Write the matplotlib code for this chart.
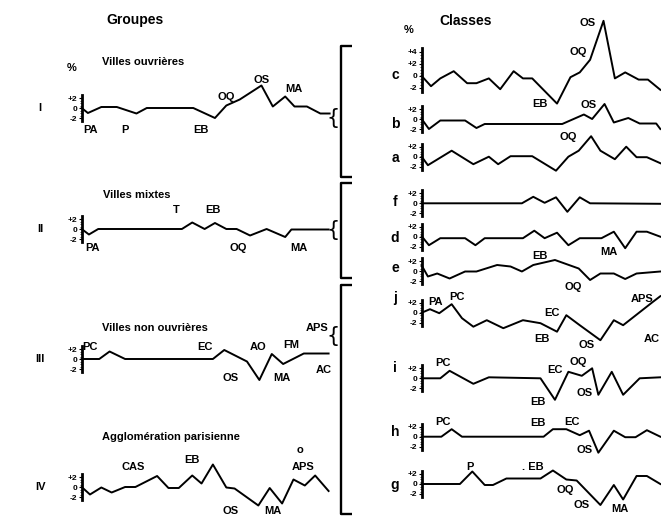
import numpy as np
import matplotlib
matplotlib.use("Agg")
import matplotlib.pyplot as plt
from matplotlib.lines import Line2D

plt.rcParams['font.family'] = ['Liberation Sans', 'DejaVu Sans']
plt.rcParams['font.weight'] = 'bold'

# ---- data: position along the category axis (0..24), deviation in % ----
# Groupes (left)
I_x = [0, 0.6, 1.9, 3.4, 5.3, 6.3, 10.8, 12.9, 14.0, 15.3, 17.4, 18.5, 19.7, 20.6, 21.8, 23.1, 24.0]
I_y = [0, -1.0, 0.2, 0.2, -1.1, 0, 0, -2.0, 0.5, 1.7, 4.5, 0.3, 2.3, 0.3, 0.3, -1.1, -1.1]
I_lab = [("PA", 0.9, -4.4), ("P", 4.2, -4.4), ("EB", 11.5, -4.4),
         ("OQ", 14.0, 2.3), ("OS", 17.4, 5.6), ("MA", 20.5, 3.8)]

II_x = [0, 0.7, 1.6, 9.7, 10.7, 11.9, 12.9, 14.0, 15.0, 16.3, 17.9, 19.7, 20.3, 23.9]
II_y = [0, -1.1, 0, 0, 1.3, 0, 1.2, 0, 0, -1.3, 0, -1.6, -0.1, -0.1]
II_lab = [("T", 9.2, 3.8), ("EB", 12.7, 3.8), ("PA", 1.0, -3.8),
          ("OQ", 15.2, -3.8), ("MA", 21.0, -3.8)]

III_x = [0, 1.7, 2.7, 4.2, 12.7, 13.8, 16.0, 17.2, 18.4, 19.5, 21.5, 23.9]
III_y = [0, 0, 1.5, 0, 0, 1.8, -0.5, -4.2, 1.0, -1.0, 1.1, 1.1]
III_lab = [("PC", 0.8, 2.4), ("EC", 11.9, 2.4), ("AO", 17.1, 2.4), ("FM", 20.3, 2.8),
           ("APS", 22.8, 6.2), ("OS", 14.4, -3.8), ("MA", 19.4, -3.8), ("AC", 23.4, -2.2)]

IV_x = [0, 0.8, 1.9, 2.9, 4.2, 5.2, 7.3, 8.4, 9.4, 10.7, 11.6, 12.7, 14.0, 14.8,
        17.1, 18.2, 19.4, 20.5, 21.6, 22.6, 23.9]
IV_y = [0, -1.5, -0.1, -1.1, 0, 0, 2.2, -0.2, -0.2, 2.3, 0.7, 4.5, -0.1, -0.3,
        -3.7, -0.2, -3.3, 1.5, 0.3, 2.3, -0.8]
IV_lab = [("CAS", 5.0, 4.0), ("EB", 10.7, 5.4), ("o", 21.1, 7.4), ("APS", 21.4, 4.0),
          ("OS", 14.4, -4.8), ("MA", 18.5, -4.8)]

# Classes (right)
c_x = [0, 0.9, 1.8, 3.1, 4.4, 5.3, 6.5, 7.6, 8.9, 9.8, 10.7, 13.1, 14.4, 15.3,
       16.3, 17.6, 18.7, 19.7, 21.0, 21.9, 23.1]
c_y = [0, -1.7, -0.4, 0.8, -1.2, -1.2, -0.4, -2.2, 0.8, -0.4, -0.4, -4.6, -0.2, 0.6,
       2.7, 9.2, -0.4, 0.6, -0.6, -0.6, -2.3]
c_lab = [("OS", 16.1, 8.9), ("OQ", 15.2, 4.0), ("EB", 11.45, -4.7)]

b_x = [0, 0.7, 1.8, 4.2, 5.3, 6.1, 13.6, 15.7, 16.5, 17.7, 18.6, 20.0, 21.1, 22.7, 23.1]
b_y = [0, -2.0, -0.3, -0.3, -1.8, -1.0, -1.0, 0.9, 0, 3.0, -0.7, 0.2, -0.9, -0.9, -2.0]
b_lab = [("OS", 16.2, 2.8), ("OQ", 14.2, -3.5)]

a_x = [0, 0.6, 2.9, 5.0, 6.5, 7.4, 8.6, 10.7, 13.0, 14.2, 15.2, 16.4, 17.3, 18.7,
       19.8, 20.8, 21.8, 23.1]
a_y = [0, -1.7, 1.2, -1.5, 0, -1.5, 0.1, 0.1, -2.8, 0, 1.2, 4.1, 1.2, -0.5,
       2.0, -0.1, -0.1, -1.3]
a_lab = []

f_x = [0, 9.7, 10.8, 11.9, 13.0, 14.1, 15.3, 16.3, 23.1]
f_y = [0, 0, 1.3, 0.1, 1.2, -1.7, 1.2, 0, -0.1]
f_lab = []

d_x = [0, 0.7, 1.8, 4.2, 5.2, 6.1, 9.8, 10.9, 11.9, 13.1, 14.2, 15.3, 17.4, 18.6,
       19.7, 20.8, 21.8, 23.1]
d_y = [0.1, -1.7, -0.3, -0.3, -1.7, -0.3, -0.3, 1.2, -0.3, 0.8, -1.7, -0.3, -0.3, 1.0,
       -2.3, 1.0, 1.0, 0]
d_lab = [("MA", 18.1, -3.1)]

e_x = [0, 0.6, 1.5, 2.7, 4.2, 5.3, 7.3, 8.6, 9.7, 10.8, 12.9, 15.2, 16.3, 17.3,
       18.6, 19.7, 20.8, 23.1]
e_y = [1.1, -1.1, -0.5, -1.5, -0.1, -0.1, 1.2, 0.9, -0.1, 1.2, 2.2, 0.5, -1.8, -0.5,
       -0.5, -1.6, -0.5, -0.1]
e_lab = [("EB", 11.45, 3.0), ("OQ", 14.7, -3.3)]

j_x = [0, 0.8, 1.7, 2.9, 3.9, 5.0, 6.3, 7.9, 9.8, 11.5, 13.1, 14.0, 15.3, 17.3,
       18.6, 19.5, 22.4, 23.1]
j_y = [0, 0.7, -0.1, 1.7, -1.1, -2.8, -1.5, -3.1, -1.5, -2.1, -3.8, -0.5, -2.5, -5.5,
       -1.5, -2.5, 2.2, 3.3]
j_lab = [("PA", 1.3, 2.2), ("PC", 3.4, 3.1), ("EC", 12.6, -0.1), ("EB", 11.6, -5.3),
         ("OS", 16.0, -6.5), ("APS", 21.3, 2.7), ("AC", 22.3, -5.3)]

i_x = [0, 1.8, 2.7, 5.0, 6.5, 11.5, 12.9, 14.2, 15.5, 16.5, 17.1, 18.4, 19.5, 21.1, 23.1]
i_y = [0, 0, 1.5, -1.1, 0.2, 0, -4.3, 1.3, 0.5, 2.0, -3.3, 1.3, -3.3, 0, 0.2]
i_lab = [("PC", 2.1, 3.0), ("EC", 12.9, 1.7), ("OQ", 15.2, 3.3),
         ("EB", 11.3, -4.7), ("OS", 15.8, -3.0)]

h_x = [0, 1.9, 2.9, 3.9, 11.8, 12.7, 14.0, 15.3, 16.2, 17.1, 18.6, 19.7, 20.7, 21.8, 23.1]
h_y = [0, 0, 1.5, 0, 0, 1.5, 1.5, 0.3, 1.2, -3.2, 1.2, -0.1, -0.1, 1.3, 0]
h_lab = [("PC", 2.1, 3.0), ("EB", 11.3, 2.8), ("EC", 14.5, 3.0), ("OS", 15.8, -2.7)]

g_x = [0, 3.7, 4.9, 6.1, 6.9, 8.2, 11.5, 12.7, 14.0, 15.0, 17.3, 18.6, 19.5, 20.8, 21.8, 23.1]
g_y = [0, 0, 2.5, -0.2, -0.2, 1.1, 1.1, 2.7, 0.9, 0.7, -4.2, -0.2, -3.1, 1.6, 1.6, 0]
g_lab = [("P", 4.7, 3.5), (". EB", 10.8, 3.5), ("OQ", 13.9, -1.2),
         ("OS", 15.5, -4.2), ("MA", 19.2, -4.9)]

# ---- layout ----
W, H = 661, 516
UNIT = 10.33
XMAX = 24
fig = plt.figure(figsize=(W / 100, H / 100), dpi=100)
fig.patch.set_facecolor('white')


def ftext(x, y, s, size=8, weight='bold', **kw):
    kw.setdefault('ha', 'center')
    kw.setdefault('va', 'center')
    fig.text(x / W, 1 - y / H, s, fontsize=size, fontweight=weight, **kw)


def fline(xs, ys, lw=1.7):
    fig.add_artist(Line2D([x / W for x in xs], [1 - y / H for y in ys],
                          color='black', lw=lw, solid_capstyle='butt'))


def add_series(x0, zero, xs, ys, labels, ppp=5.0, ticks=(2, 0, -2)):
    lo, hi = -8, 11
    ax = fig.add_axes([x0 / W, 1 - (zero - lo * ppp) / H,
                       XMAX * UNIT / W, (hi - lo) * ppp / H])
    ax.set_xlim(0, XMAX)
    ax.set_ylim(lo, hi)
    ax.patch.set_alpha(0)
    for s in ('top', 'right', 'bottom'):
        ax.spines[s].set_visible(False)
    ax.spines['left'].set_bounds(min(ticks) - 0.6, max(ticks) + 0.6)
    ax.spines['left'].set_linewidth(2.0)
    ax.set_xticks([])
    ax.set_yticks(list(ticks))
    ax.set_yticklabels(['+%d' % t if t > 0 else str(t) for t in ticks],
                       fontsize=6, fontweight='bold')
    ax.set_yticks(np.arange(min(ticks), max(ticks) + 0.1, 0.5), minor=True)
    ax.tick_params(axis='y', which='major', length=2, width=0.8, pad=1)
    ax.tick_params(axis='y', which='minor', length=1.2, width=0.5)
    ax.plot(xs, ys, color='black', lw=1.4, clip_on=False)
    for t, px, py in labels:
        ax.text(px, py, t, ha='center', va='center', fontsize=8, fontweight='bold')
    return ax


LX, RX = 81.7, 421.7
add_series(LX, 108, I_x, I_y, I_lab)
add_series(LX, 229, II_x, II_y, II_lab)
add_series(LX, 359, III_x, III_y, III_lab)
add_series(LX, 487, IV_x, IV_y, IV_lab)

add_series(RX, 76, c_x, c_y, c_lab, ppp=6.0, ticks=(4, 2, 0, -2))
add_series(RX, 119, b_x, b_y, b_lab)
add_series(RX, 156.7, a_x, a_y, a_lab)
add_series(RX, 203.3, f_x, f_y, f_lab)
add_series(RX, 236.7, d_x, d_y, d_lab)
add_series(RX, 271, e_x, e_y, e_lab)
add_series(RX, 312.7, j_x, j_y, j_lab)
add_series(RX, 378.3, i_x, i_y, i_lab)
add_series(RX, 436.7, h_x, h_y, h_lab)
add_series(RX, 484, g_x, g_y, g_lab)

# headings
ftext(135, 20, "Groupes", size=10)
ftext(466, 21, "Classes", size=10)
ftext(72, 68, "%", size=8)
ftext(409, 30, "%", size=8)
ftext(102, 62, "Villes ouvrières", size=8, ha='left')
ftext(103, 195, "Villes mixtes", size=8, ha='left')
ftext(102, 328, "Villes non ouvrières", size=8, ha='left')
ftext(102, 437, "Agglomération parisienne", size=8, ha='left')

for s, y in [("I", 108), ("II", 229), ("III", 359), ("IV", 487)]:
    ftext(40, y, s, size=8)

for s, y in [("c", 75), ("b", 124), ("a", 158), ("f", 202), ("d", 238),
             ("e", 268), ("j", 298), ("i", 368), ("h", 432), ("g", 485)]:
    ftext(395, y, s, size=10)

# brackets joining groups to classes
for top, bot in [(46, 177), (183, 278), (285, 514)]:
    fline([352, 341, 341, 352], [top, top, bot, bot])

for y in (118, 230, 336):
    ftext(333, y, "{", size=15, weight='normal', family='DejaVu Sans')

fig.savefig("out.png", dpi=100, facecolor='white')
